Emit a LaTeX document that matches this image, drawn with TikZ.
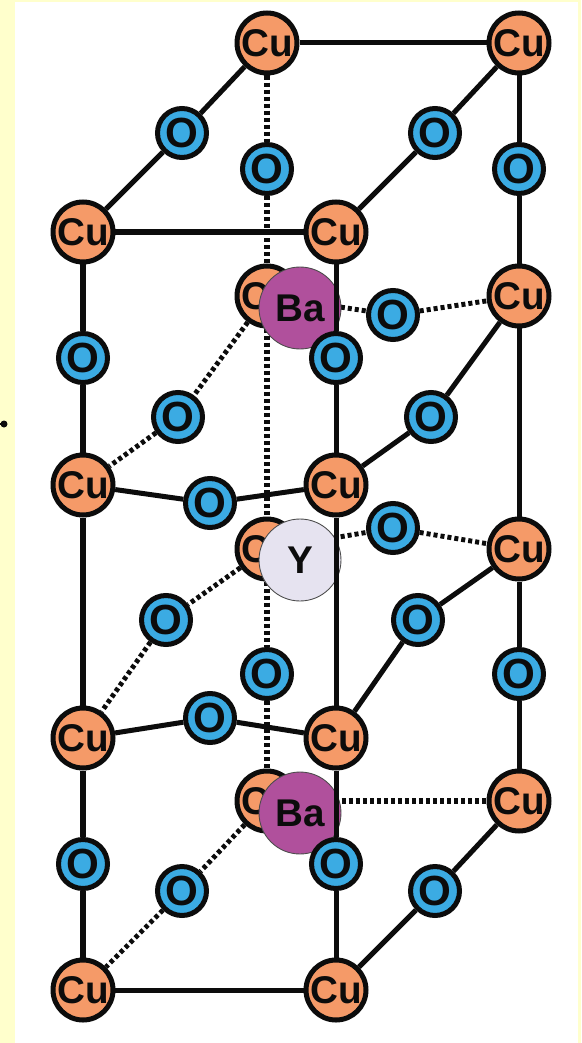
\documentclass[tikz,border=0pt]{standalone}
\usepackage{fontspec}
\setmainfont{Liberation Sans}
\definecolor{paper}{HTML}{FFFFCC}
\definecolor{cuorange}{HTML}{F59A68}
\definecolor{oblue}{HTML}{3BABE3}
\definecolor{bapurple}{HTML}{B0509C}
\definecolor{ygrey}{HTML}{E6E3F0}
\definecolor{ink}{HTML}{0C0C0C}
\tikzset{
  cu/.style={circle,draw=ink,text=ink,line width=2.85pt,fill=cuorange,minimum size=1.2cm,inner sep=0pt,font=\bfseries\fontsize{22}{22}\selectfont},
  ox/.style={circle,draw=ink,text=ink,line width=2.85pt,fill=oblue,minimum size=0.98cm,inner sep=0pt,font=\bfseries\fontsize{24}{24}\selectfont},
  big/.style={circle,draw=black!70,text=ink,line width=0.5pt,minimum size=1.64cm,inner sep=0pt,font=\bfseries\fontsize{22}{22}\selectfont},
  bond/.style={line width=2.85pt,ink},
  hidden/.style={line width=2.8pt,ink,dash pattern=on 2.3pt off 1.7pt},
  hiddenstraight/.style={line width=3.6pt,ink,dash pattern=on 2.4pt off 1.6pt}
}
\begin{document}
\begin{tikzpicture}[x=0.02cm,y=-0.02cm]
      \useasboundingbox (0,0) rectangle (581,1043);
      \fill[paper] (0,0) rectangle (581,1043);
      \fill[white] (15,2) rectangle (577.5,1043);
      \fill[ink] (4,424) circle (3.5);
      \fill[ink] (0,423) rectangle (4,425);
      % back row, half hidden
      \node[cu] (cuB) at (267,296) {Cu};
      \node[cu] (cuY) at (267,549) {Cu};
      \node[cu] (cuC) at (267,801) {Cu};
      % copper
      \node[cu] (cu1) at (267,43) {Cu};
      \node[cu] (cu2) at (519,43) {Cu};
      \node[cu] (cu3) at (83,232) {Cu};
      \node[cu] (cu4) at (336,232) {Cu};
      \node[cu] (cu5) at (519,296) {Cu};
      \node[cu] (cu6) at (83,485) {Cu};
      \node[cu] (cu7) at (336,485) {Cu};
      \node[cu] (cu8) at (519,549) {Cu};
      \node[cu] (cu9) at (83,738) {Cu};
      \node[cu] (cu10) at (336,738) {Cu};
      \node[cu] (cu11) at (519,801) {Cu};
      \node[cu] (cu12) at (83,990) {Cu};
      \node[cu] (cu13) at (336,990) {Cu};
      % oxygen
      \node[ox] (o1) at (182,133) {O};
      \node[ox] (o2) at (435,133) {O};
      \node[ox] (o3) at (267,169) {O};
      \node[ox] (o4) at (519,169) {O};
      \node[ox] (o5) at (83,358) {O};
      \node[ox] (o7) at (393,315) {O};
      \node[ox] (o8) at (178,417) {O};
      \node[ox] (o9) at (431,417) {O};
      \node[ox] (o10) at (210,503) {O};
      \node[ox] (o11) at (393,528) {O};
      \node[ox] (o12) at (166,620) {O};
      \node[ox] (o13) at (418,620) {O};
      \node[ox] (o14) at (267,674) {O};
      \node[ox] (o15) at (519,674) {O};
      \node[ox] (o16) at (210,718) {O};
      \node[ox] (o17) at (83,864) {O};
      \node[ox] (o19) at (182,891) {O};
      \node[ox] (o20) at (435,891) {O};
      % dotted bonds go behind Ba and Y
      \draw[hiddenstraight] (cu1)--(o3);
      \draw[hiddenstraight] (o3)--(cuB);
      \draw[hiddenstraight] (cuB)--(cuY);
      \draw[hiddenstraight] (cuY)--(o14);
      \draw[hiddenstraight] (o14)--(cuC);
      \draw[hidden] (cuB)--(o7);
      \draw[hidden] (o7)--(cu5);
      \draw[hidden] (cuB)--(o8);
      \draw[hidden] (o8)--(cu6);
      \draw[hidden] (cuY)--(o11);
      \draw[hidden] (o11)--(cu8);
      \draw[hidden] (cuY)--(o12);
      \draw[hidden] (o12)--(cu9);
      \draw[hiddenstraight] (cuC)--(cu11);
      \draw[hidden] (cuC)--(o19);
      \draw[hidden] (o19)--(cu12);
      % big atoms
      \node[big,fill=bapurple] (ba1) at (300,308) {Ba};
      \node[big,fill=ygrey] (y1) at (300,560) {Y};
      \node[big,fill=bapurple] (ba2) at (300,813) {Ba};
      \node[ox] (o6) at (336,358) {O};
      \node[ox] (o18) at (336,864) {O};
      % solid bonds
      \draw[bond] (cu1)--(cu2);
      \draw[bond] (cu1)--(o1);
      \draw[bond] (o1)--(cu3);
      \draw[bond] (cu2)--(o2);
      \draw[bond] (o2)--(cu4);
      \draw[bond] (cu3)--(cu4);
      \draw[bond] (cu2)--(o4);
      \draw[bond] (o4)--(cu5);
      \draw[bond] (cu3)--(o5);
      \draw[bond] (o5)--(cu6);
      \draw[bond] (cu4)--(o6);
      \draw[bond] (o6)--(cu7);
      \draw[bond] (cu5)--(o9);
      \draw[bond] (o9)--(cu7);
      \draw[bond] (cu5)--(cu8);
      \draw[bond] (cu6)--(o10);
      \draw[bond] (o10)--(cu7);
      \draw[bond] (cu6)--(cu9);
      \draw[bond] (cu7)--(cu10);
      \draw[bond] (cu8)--(o13);
      \draw[bond] (o13)--(cu10);
      \draw[bond] (cu8)--(o15);
      \draw[bond] (o15)--(cu11);
      \draw[bond] (cu9)--(o16);
      \draw[bond] (o16)--(cu10);
      \draw[bond] (cu9)--(o17);
      \draw[bond] (o17)--(cu12);
      \draw[bond] (cu10)--(o18);
      \draw[bond] (o18)--(cu13);
      \draw[bond] (cu11)--(o20);
      \draw[bond] (o20)--(cu13);
      \draw[bond] (cu12)--(cu13);
\end{tikzpicture}
\end{document}
